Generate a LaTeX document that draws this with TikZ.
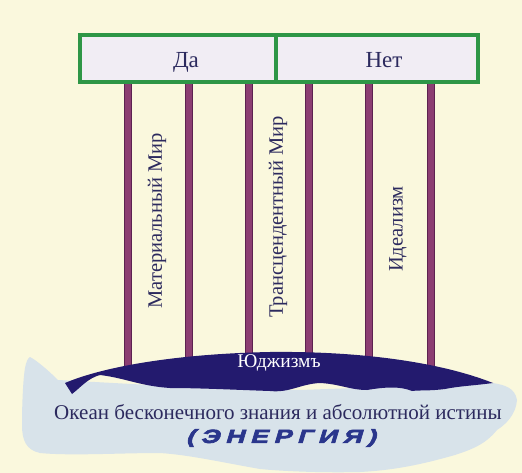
\documentclass[tikz,border=0pt]{standalone}
\usepackage{fontspec}
\setmainfont{Liberation Serif}
\newfontfamily\energyfont[LetterSpace=30,FakeBold=3.5,FakeSlant=0.3,FakeStretch=1.4]{Liberation Sans Bold}
\definecolor{bgc}{RGB}{250,248,221}
\definecolor{boxfill}{RGB}{241,237,244}
\definecolor{boxline}{RGB}{46,150,70}
\definecolor{pillar}{RGB}{140,62,114}
\definecolor{pillaredge}{RGB}{92,34,80}
\definecolor{darkblue}{RGB}{35,26,110}
\definecolor{ocean}{RGB}{216,227,234}
\definecolor{txt}{RGB}{44,42,94}
\definecolor{energy}{RGB}{42,54,140}
\tikzset{
  header/.style={draw=boxline, line width=3.2pt, fill=boxfill, minimum height=47pt, inner sep=0pt},
  headtext/.style={anchor=base, text=txt, font=\fontsize{23}{25}\selectfont, inner sep=0pt},
  pillarbar/.style={fill=pillar, draw=pillaredge, line width=0.6pt},
  vlabel/.style={rotate=90, text=txt, font=\fontsize{20.5}{22}\selectfont, inner sep=0pt},
}
\begin{document}
\begin{tikzpicture}[x=1pt,y=-1pt]
\useasboundingbox (0,0) rectangle (522,473);
\fill[bgc] (0,0) rectangle (522,473);
% pillars
\foreach \px in {128,189,249,309,369,431}{
  \filldraw[pillarbar] (\px-3.5,82) rectangle (\px+3.5,372);
}
% header boxes
\node[header, minimum width=196pt] (da) at (178,58.5) {};
\node[header, minimum width=202pt] (net) at (377,58.5) {};
\node[headtext] (datext) at (186,68) {Да};
\node[headtext] (nettext) at (384,68) {Нет};
% ocean
\fill[ocean] (30,357) .. controls (36,360) and (48,370) .. (58,380)
  -- (150,385) -- (300,390) -- (493,383)
  .. controls (505,385) and (515,388) .. (517,400)
  .. controls (516,415) and (505,425) .. (497,430)
  .. controls (485,445) and (470,450) .. (455,455)
  .. controls (430,462) and (400,470) .. (360,472)
  .. controls (320,473) and (280,471) .. (260,469)
  .. controls (220,462) and (190,455) .. (160,453)
  .. controls (120,453) and (70,456) .. (40,453)
  .. controls (26,450) and (22,440) .. (22,425)
  .. controls (22,405) and (23,380) .. (25,368)
  .. controls (26,362) and (28,358) .. (30,357) -- cycle;
% dark blue land
\fill[darkblue] (65,383)
  .. controls (100,368) and (170,354) .. (270,352)
  .. controls (360,351) and (440,362) .. (493,383)
  .. controls (470,386) and (460,386) .. (445,389)
  .. controls (430,391) and (420,390) .. (412,391)
  .. controls (400,386) and (385,387) .. (367,390)
  .. controls (350,390) and (340,384) .. (320,383)
  .. controls (300,384) and (290,393) .. (270,391)
  .. controls (240,390) and (200,388) .. (170,388)
  .. controls (140,386) and (125,378) .. (100,375)
  .. controls (88,378) and (80,388) .. (72,394)
  -- cycle;
% labels
\node[vlabel] (mat) at (157,221) {Материальный Мир};
\node[vlabel] (trans) at (278,217) {Трансцендентный Мир};
\node[vlabel] (ideal) at (398,229) {Идеализм};
\node[text=white, font=\fontsize{19.5}{21}\selectfont, inner sep=0pt] (yu) at (279,363) {Юджизмъ};
\node[text=txt, font=\fontsize{21}{23}\selectfont, inner sep=0pt] (okean) at (278,412) {Океан бесконечного знания и абсолютной истины};
\node[text=energy, font=\energyfont\fontsize{19}{21}\selectfont, inner sep=0pt] (en) at (281,438) {(ЭНЕРГИЯ)};
\end{tikzpicture}
\end{document}
